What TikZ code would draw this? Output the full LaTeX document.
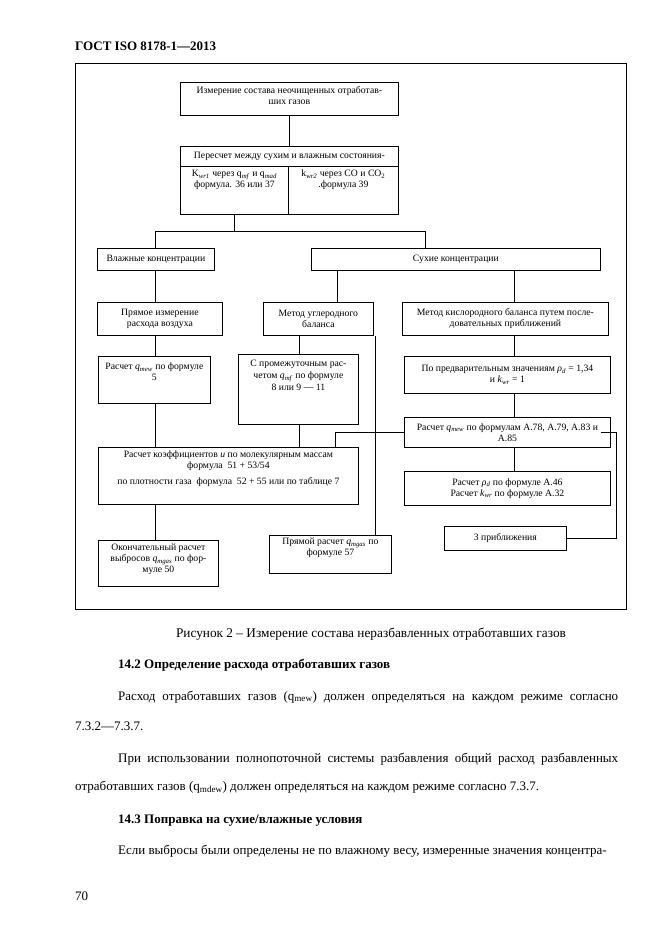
\documentclass[tikz,border=0pt]{standalone}
\usepackage{fontspec}
\setmainfont{Liberation Serif}
\newcommand\qsub[2]{\textit{#1}\textsubscript{\textit{#2}}}
\begin{document}
\begin{tikzpicture}[x=1pt,y=-1pt,
  box/.style={draw, line width=0.8pt, inner sep=0pt, anchor=north west},
  txt/.style={font=\fontsize{9.7}{11}\selectfont, align=center, inner sep=0pt},
  ln/.style={line width=0.8pt},
  body/.style={font=\fontsize{13}{15}\selectfont, inner sep=0pt, anchor=base west}]
\useasboundingbox[fill=white] (0,0) rectangle (661,935);
\newcommand\mybox[5]{\node[box, minimum width={#4pt-#2pt}, minimum height={#5pt-#3pt}] (#1) at (#2,#3) {};}
% page texts
\node[body, font=\fontsize{13}{15}\selectfont\bfseries] (hdr) at (75,50) {ГОСТ ISO 8178-1—2013};
\node[draw, line width=1pt, inner sep=0pt, anchor=north west, minimum width=551pt, minimum height=546pt] (frame) at (75,63) {};
% boxes
\mybox{top}{180}{82}{398}{115}
\mybox{per}{180}{146}{398}{166}
\mybox{cl}{180}{166}{288}{214}
\mybox{cr}{288}{166}{398}{214}
\mybox{vl}{97}{248}{214}{270}
\mybox{sk}{311}{248}{600}{270}
\mybox{pr}{97}{302}{222}{335}
\mybox{mu}{263}{302}{373}{335}
\mybox{mk}{402}{302}{608}{335}
\mybox{rq}{98}{356}{210}{403}
\mybox{sp}{238}{354}{358}{424}
\mybox{pv}{404}{356}{610}{393}
\mybox{ra}{404}{417}{610}{447}
\mybox{rk}{98}{447}{358}{504}
\mybox{rr}{404}{471}{610}{505}
\mybox{tp}{444}{526}{566}{550}
\mybox{ok}{98}{540}{218}{586}
\mybox{pd}{269}{535}{391}{573}
% box texts
\node[txt, anchor=north] at ([yshift=-4pt]top.north) {Измерение состава неочищенных отработав-\\ших газов};
\node[txt] at (per.center) {Пересчет между сухим и влажным состояния-};
\node[txt, anchor=north] at ([yshift=-4pt]cl.north) {K\textsubscript{\textit{wr1}} через q\textsubscript{\textit{mf}} и q\textsubscript{\textit{mad}}\\формула. 36 или 37};
\node[txt, anchor=north] at ([yshift=-4pt]cr.north) {k\textsubscript{\textit{wr2}} через CO и CO\textsubscript{2}\\.формула 39};
\node[txt] at (vl.center) {Влажные концентрации};
\node[txt] at (sk.center) {Сухие концентрации};
\node[txt] at (pr.center) {Прямое измерение\\расхода воздуха};
\node[txt] at (mu.center) {Метод углеродного\\баланса};
\node[txt] at (mk.center) {Метод кислородного баланса путем после-\\довательных приближений};
\node[txt, anchor=north] at ([yshift=-7pt]rq.north) {Расчет \qsub{q}{mew} по формуле\\5};
\node[txt, anchor=north, font=\fontsize{9.7}{12}\selectfont] at ([yshift=-6pt]sp.north) {С промежуточным рас-\\четом \qsub{q}{mf} по формуле\\8 или 9 — 11};
\node[txt] at (pv.center) {По предварительным значениям \qsub{ρ}{d} = 1,34\\и \qsub{k}{wr} = 1};
\node[txt] at (ra.center) {Расчет \qsub{q}{mew} по формулам А.78, А.79, А.83 и\\А.85};
\node[txt, anchor=north] at ([yshift=-4pt]rk.north) {Расчет коэффициентов \textit{u} по молекулярным массам\\формула~~51 + 53/54\\[5pt]по плотности газа~~формула~~52 + 55 или по таблице 7};
\node[txt] at (rr.center) {Расчет \qsub{ρ}{d} по формуле А.46\\Расчет \qsub{k}{wr} по формуле А.32};
\node[txt] at (tp.center) {3 приближения};
\node[txt, anchor=north] at ([yshift=-4pt]ok.north) {Окончательный расчет\\выбросов \qsub{q}{mgas} по фор-\\муле 50};
\node[txt, anchor=north] at ([yshift=-3pt]pd.north) {Прямой расчет \qsub{q}{mgas} по\\формуле 57};
% connector coordinates
\coordinate (xa) at (155,0);
\coordinate (xb) at (299,0);
\coordinate (xc) at (337,0);
\coordinate (xd) at (375,0);
\coordinate (xe) at (514,0);
\coordinate (xf) at (335,0);
\coordinate (xg) at (616,0);
\coordinate (bar) at (234,231);
\coordinate (barR) at (425,231);
\coordinate (rs) at (601,432);
% connectors
\draw[ln] (top.south) -- (per.north);
\draw[ln] (cl.south) -- (cl.south |- bar);
\draw[ln] (vl.north -| xa) |- (barR) -- (barR |- sk.north);
\draw[ln] (vl.south -| xa) -- (pr.north -| xa);
\draw[ln] (pr.south -| xa) -- (rq.north -| xa);
\draw[ln] (rq.south -| xa) -- (rk.north -| xa);
\draw[ln] (rk.south -| xa) -- (ok.north -| xa);
\draw[ln] (sk.south -| xc) -- (mu.north -| xc);
\draw[ln] (sk.south -| xe) -- (mk.north -| xe);
\draw[ln] (mu.south -| xb) -- (sp.north -| xb);
\draw[ln] (sp.south -| xb) -- (rk.north -| xb);
\draw[ln] (mu.south -| xd) -- (pd.north -| xd);
\draw[ln] (mk.south -| xe) -- (pv.north -| xe);
\draw[ln] (pv.south -| xe) -- (ra.north -| xe);
\draw[ln] (ra.south -| xe) -- (rr.north -| xe);
\draw[ln] (ra.west) -| (rk.north -| xf);
\draw[ln] (rs) -- (rs -| xg) |- (tp.east);
% caption and body text
\node[font=\fontsize{13.3}{15}\selectfont, inner sep=0pt, anchor=base] (cap) at (371,637) {Рисунок 2 – Измерение состава неразбавленных отработавших газов};
\node[body, font=\fontsize{13}{15}\selectfont\bfseries] (s142) at (118,668) {14.2 Определение расхода отработавших газов};
\node[body] (p1) at (118,700) {\makebox[500pt][s]{Расход отработавших газов (q\textsubscript{mew}) должен определяться на каждом режиме согласно}};
\node[body] (p2) at (75,730) {7.3.2—7.3.7.};
\node[body] (p3) at (118,762) {\makebox[500pt][s]{При использовании полнопоточной системы разбавления общий расход разбавленных}};
\node[body] (p4) at (75,790) {отработавших газов (q\textsubscript{mdew}) должен определяться на каждом режиме согласно 7.3.7.};
\node[body, font=\fontsize{13}{15}\selectfont\bfseries] (s143) at (118,823) {14.3 Поправка на сухие/влажные условия};
\node[body] (p5) at (118,854) {Если выбросы были определены не по влажному весу, измеренные значения концентра-};
\node[body] (pg) at (75,900) {70};
\end{tikzpicture}
\end{document}
